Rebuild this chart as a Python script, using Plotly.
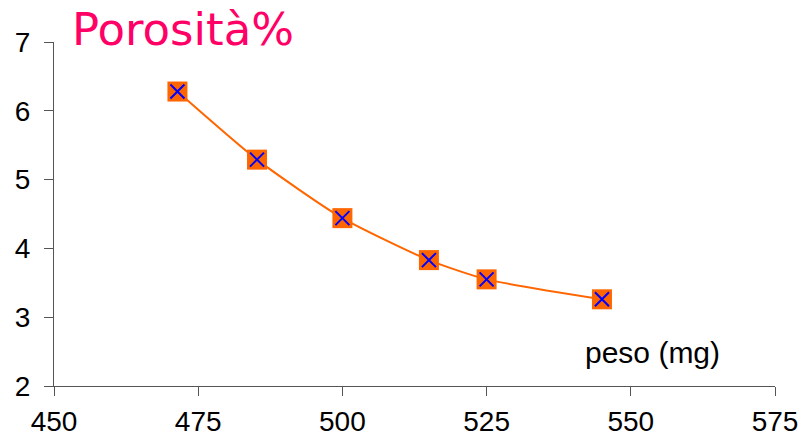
import plotly.graph_objects as go

# Porosity (%) against tablet weight (mg)
peso_mg = [471.4, 485.2, 500.0, 515.0, 525.0, 545.0]
porosita = [6.28, 5.29, 4.44, 3.83, 3.55, 3.26]

x_ticks = [450, 475, 500, 525, 550, 575]
y_ticks = [2, 3, 4, 5, 6, 7]

ORANGE = "#FF6600"
BLUE = "#0000FF"

fig = go.Figure()

# smoothed connecting line
fig.add_trace(go.Scatter(
    x=peso_mg, y=porosita, mode="lines",
    line=dict(color=ORANGE, width=2, shape="spline", smoothing=0.6),
    hoverinfo="skip", showlegend=False,
))
# orange square markers
fig.add_trace(go.Scatter(
    x=peso_mg, y=porosita, mode="markers",
    marker=dict(symbol="square", size=20, color=ORANGE, line=dict(width=0)),
    showlegend=False,
))
# blue crosses on top
fig.add_trace(go.Scatter(
    x=peso_mg, y=porosita, mode="markers",
    marker=dict(symbol="x-thin", size=14, color=BLUE, line=dict(width=2, color=BLUE)),
    showlegend=False,
))

axis_font = dict(family="Liberation Sans, Arial, sans-serif", size=28, color="#000000")

fig.update_layout(
    width=803, height=437,
    margin=dict(l=54, r=28, t=42, b=51),
    paper_bgcolor="white", plot_bgcolor="white",
    font=axis_font,
    xaxis=dict(
        range=[450, 575], tickvals=x_ticks, ticktext=[str(v) for v in x_ticks],
        showgrid=False, zeroline=False, automargin=False,
        showline=True, linecolor="#555555", linewidth=1.2,
        ticks="outside", ticklen=9, tickcolor="#555555", tickwidth=1.2,
        ticklabelstandoff=1,
        tickfont=axis_font,
    ),
    yaxis=dict(
        range=[2, 7], tickvals=y_ticks, ticktext=[str(v) for v in y_ticks],
        showgrid=False, zeroline=False, automargin=False,
        showline=True, linecolor="#555555", linewidth=1.2,
        ticks="outside", ticklen=9, tickcolor="#555555", tickwidth=1.2,
        ticklabelstandoff=8,
        tickfont=axis_font,
    ),
    annotations=[
        dict(text="Porosità%", xref="paper", yref="paper",
             x=(70 - 54) / 721, y=1.0, xanchor="left", yanchor="bottom",
             yshift=-16, showarrow=False,
             font=dict(family="DejaVu Sans, Verdana, sans-serif", size=45, color="#FF0066")),
        dict(text="peso (mg)", xref="paper", yref="paper",
             x=(583 - 54) / 721, y=(386 - 352) / 344, xanchor="left", yanchor="middle",
             showarrow=False,
             font=dict(family="Liberation Sans, Arial, sans-serif", size=30, color="#000000")),
    ],
)

fig.write_html("out.html")
